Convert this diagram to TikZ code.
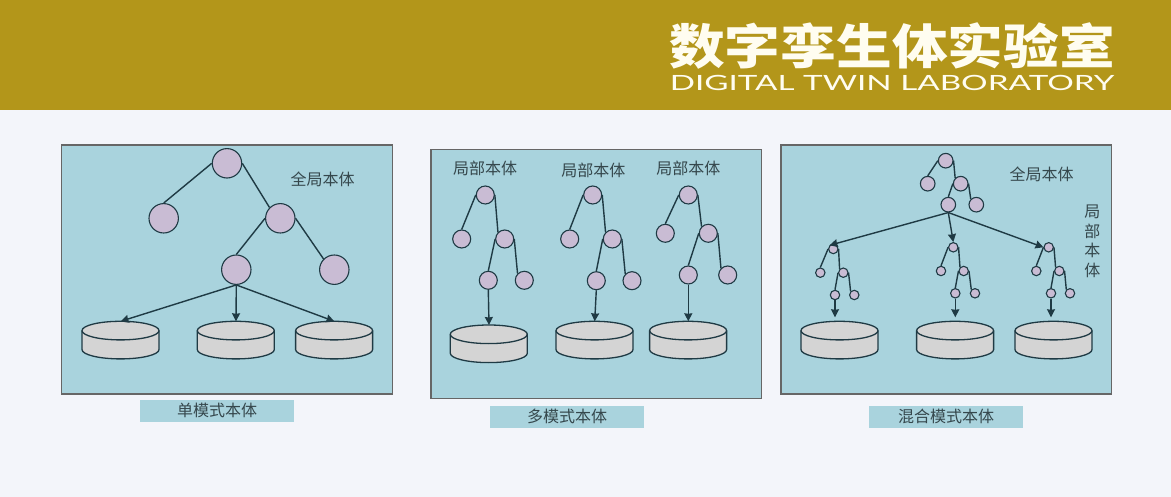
\documentclass[tikz,border=0pt]{standalone}
\usepackage{fontspec}
\setmainfont{Noto Sans CJK SC}
\newfontfamily\latinfont{Lato}
\usetikzlibrary{arrows.meta}
\definecolor{pagebg}{HTML}{F3F5FA}
\definecolor{bandcol}{HTML}{B3961A}
\definecolor{panelcol}{HTML}{A9D3DD}
\definecolor{circcol}{HTML}{C9BCD4}
\definecolor{diskcol}{HTML}{D4D4D4}
\definecolor{linecol}{HTML}{1F3A44}
\definecolor{textcol}{HTML}{35474C}
\definecolor{titlecol}{HTML}{FFFDF0}
\tikzset{
  panel/.style={draw=black!60,line width=1.2pt,fill=panelcol,minimum width=330.5pt,minimum height=249pt,inner sep=0pt},
  capbox/.style={fill=panelcol,minimum width=154.5pt,minimum height=22pt,inner sep=0pt,text=textcol,font=\fontsize{16}{19}\selectfont},
  lbl/.style={text=textcol,inner sep=0pt,align=center,font=\fontsize{16}{19.6}\selectfont},
  big/.style={circle,draw=linecol,line width=1.1pt,fill=circcol,minimum size=29.4pt,inner sep=0pt},
  mid/.style={circle,draw=linecol,line width=1.1pt,fill=circcol,minimum size=18pt,inner sep=0pt},
  sml/.style={circle,draw=linecol,line width=1.1pt,fill=circcol,minimum size=14.6pt,inner sep=0pt},
  tiny/.style={circle,draw=linecol,line width=1.1pt,fill=circcol,minimum size=9.4pt,inner sep=0pt},
  diskbox/.style={minimum width=77pt,minimum height=37.6pt,inner sep=0pt},
  diskline/.style={draw=linecol,line width=1.3pt,fill=diskcol},
  edge/.style={draw=linecol,line width=1.4pt},
  arr/.style={edge,-{Stealth[length=8pt,width=8pt,inset=0.5pt]}}
}
% A disk: name, x, y
\newcommand{\disknode}[3]{
  \node[diskbox] at (#2,#3) (#1) {};
  \filldraw[diskline] (#1.north west) ++(0,9.3) -- ++(0,19) arc (180:360:38.5pt and 9.3pt) -- ++(0,-19) arc (0:180:38.5pt and 9.3pt) -- cycle;
  \draw[diskline,fill=none] (#1.north west) ++(0,9.3) arc (180:360:38.5pt and 9.3pt);
}
\begin{document}
\begin{tikzpicture}[x=1pt,y=-1pt]
\useasboundingbox (0,0) rectangle (1171,497);
\fill[pagebg] (0,0) rectangle (1171,497);
% Top band
\fill[bandcol] (0,0) rectangle (1171,110);
\node[text=titlecol,inner sep=0pt,xscale=1.16,font=\fontsize{48}{52}\selectfont\bfseries] at (892,46) (TitleCn) {数字孪生体实验室};
\node[text=titlecol,inner sep=0pt,xscale=1.58,font=\fontsize{21}{24}\selectfont\latinfont] at (892,83) (TitleEn) {DIGITAL TWIN LABORATORY};
% The three panels
\node[panel] at (227,269.5) (PanelA) {};
\node[panel] at (596.2,274.3) (PanelB) {};
\node[panel] at (946.2,269.5) (PanelC) {};
\node[capbox] at (217.2,410.8) (CapA) {单模式本体};
\node[capbox] at (567.2,416.7) (CapB) {多模式本体};
\node[capbox] at (946.2,416.7) (CapC) {混合模式本体};
% Single ontology
\node[lbl] at (322.7,179.3) (GlobalA) {全局本体};
\node[big] at (227,163.3) (aRoot) {};
\node[big] at (163.7,218.3) (aL) {};
\node[big] at (280.3,218.3) (aR) {};
\node[big] at (236.3,269.7) (aM) {};
\node[big] at (334.3,269.7) (aRR) {};
\disknode{aDa}{120.7}{340.3}
\disknode{aDb}{236}{340.3}
\disknode{aDc}{334.3}{340.3}
\draw[edge] (aRoot.west) -- (aL.north);
\draw[edge] (aRoot.east) -- (aR.north west);
\draw[edge] (aR.west) -- (aM.north);
\draw[edge] (aR.east) -- (aRR.north west);
\draw[arr] (aM.south) -- (aDa.north);
\draw[arr] (aM.south) -- (aDb.north);
\draw[arr] (aM.south) -- (aDc.north);
% Multiple ontologies
\node[lbl] at (485,168.3) (LocalA) {局部本体};
\node[lbl] at (593.3,170.7) (LocalB) {局部本体};
\node[lbl] at (688.3,168.3) (LocalC) {局部本体};
\node[mid] at (485.3,195) (bRoot) {};
\node[mid] at (461.7,239) (bL) {};
\node[mid] at (504.7,239) (bR) {};
\node[mid] at (488.3,280.3) (bM) {};
\node[mid] at (524.3,280.3) (bRR) {};
\disknode{bD}{489}{344}
\draw[edge] (bRoot.west) -- (bL.north);
\draw[edge] (bRoot.east) -- (bR.north west);
\draw[edge] (bR.west) -- (bM.north);
\draw[edge] (bR.east) -- (bRR.north west);
\draw[arr] (bM.south) -- (bD.north);
\node[mid] at (592.7,195) (cRoot) {};
\node[mid] at (569.7,239) (cL) {};
\node[mid] at (612.3,239) (cR) {};
\node[mid] at (596.3,280.7) (cM) {};
\node[mid] at (632,280.7) (cRR) {};
\disknode{cD}{594.7}{340.3}
\draw[edge] (cRoot.west) -- (cL.north);
\draw[edge] (cRoot.east) -- (cR.north west);
\draw[edge] (cR.west) -- (cM.north);
\draw[edge] (cR.east) -- (cRR.north west);
\draw[arr] (cM.south) -- (cD.north);
\node[mid] at (688.3,195) (dRoot) {};
\node[mid] at (665.3,233.3) (dL) {};
\node[mid] at (708.3,233.3) (dR) {};
\node[mid] at (688.3,275) (dM) {};
\node[mid] at (727.7,275) (dRR) {};
\disknode{dD}{688.3}{340.3}
\draw[edge] (dRoot.west) -- (dL.north);
\draw[edge] (dRoot.east) -- (dR.north west);
\draw[edge] (dR.west) -- (dM.north);
\draw[edge] (dR.east) -- (dRR.north west);
\draw[arr] (dM.south) -- (dD.north);
% Hybrid ontology
\node[lbl] at (1041.7,174.3) (GlobalC) {全局本体};
\node[lbl] at (1092.3,241.5) (LocalV) {局\\部\\本\\体};
\node[sml] at (945.7,160.7) (eRoot) {};
\node[sml] at (927.7,183.7) (eL) {};
\node[sml] at (960.7,183.7) (eR) {};
\node[sml] at (948.3,204.7) (eM) {};
\node[sml] at (976.3,204.7) (eRR) {};
\draw[edge] (eRoot.west) -- (eL.north);
\draw[edge] (eRoot.east) -- (eR.north west);
\draw[edge] (eR.west) -- (eM.north);
\draw[edge] (eR.east) -- (eRR.north west);
% Lower trees
\node[tiny] at (833.3,249) (fRoot) {};
\node[tiny] at (820.3,272.7) (fL) {};
\node[tiny] at (843.3,272.7) (fR) {};
\node[tiny] at (835,295) (fM) {};
\node[tiny] at (854.3,295) (fRR) {};
\disknode{fD}{839.7}{340.3}
\draw[edge] (fRoot.west) -- (fL.north);
\draw[edge] (fRoot.east) -- (fR.north west);
\draw[edge] (fR.west) -- (fM.north);
\draw[edge] (fR.east) -- (fRR.north west);
\draw[arr,shorten >=4pt] (fM.south) -- (fM.south |- fD.north);
\node[tiny] at (953.3,247.3) (gRoot) {};
\node[tiny] at (941,271) (gL) {};
\node[tiny] at (963.7,271) (gR) {};
\node[tiny] at (955.3,293.3) (gM) {};
\node[tiny] at (975,293.3) (gRR) {};
\disknode{gD}{955.3}{340.3}
\draw[edge] (gRoot.west) -- (gL.north);
\draw[edge] (gRoot.east) -- (gR.north west);
\draw[edge] (gR.west) -- (gM.north);
\draw[edge] (gR.east) -- (gRR.north west);
\draw[arr,shorten >=4pt] (gM.south) -- (gD.north);
\node[tiny] at (1048.7,247.3) (hRoot) {};
\node[tiny] at (1036.3,271) (hL) {};
\node[tiny] at (1059.3,271) (hR) {};
\node[tiny] at (1051,293.3) (hM) {};
\node[tiny] at (1070,293.3) (hRR) {};
\disknode{hD}{1053.7}{340.3}
\draw[edge] (hRoot.west) -- (hL.north);
\draw[edge] (hRoot.east) -- (hR.north west);
\draw[edge] (hR.west) -- (hM.north);
\draw[edge] (hR.east) -- (hRR.north west);
\draw[arr,shorten >=4pt] (hM.south) -- (hM.south |- hD.north);
% Arrows from the global tree
\draw[arr] (eM.south) -- (fRoot.north west);
\draw[arr] (eM.south) -- (gRoot.north);
\draw[arr] (eM.south) -- (hRoot.west);
\end{tikzpicture}
\end{document}
